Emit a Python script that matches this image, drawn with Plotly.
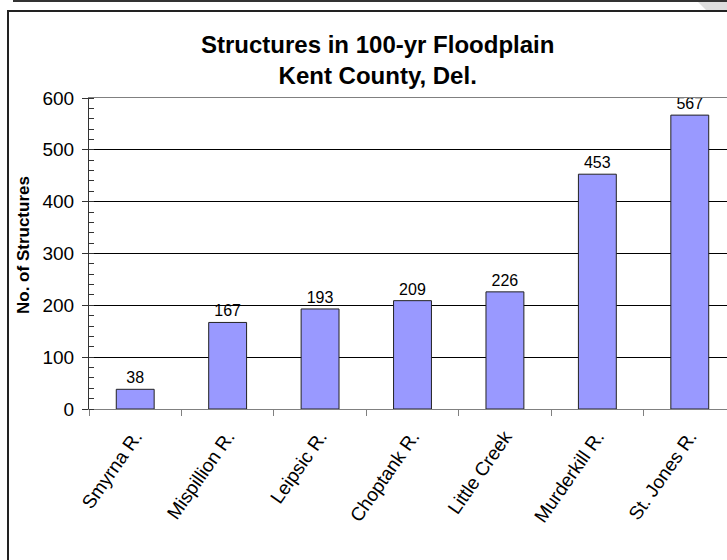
import plotly.graph_objects as go

# Floodplain structure counts by watershed
watersheds = ["Smyrna R.", "Mispillion R.", "Leipsic R.", "Choptank R.",
              "Little Creek", "Murderkill R.", "St. Jones R."]
structures = [38, 167, 193, 209, 226, 453, 567]
y_ticks = [0, 100, 200, 300, 400, 500, 600]

FONT = "Liberation Sans, Arial, sans-serif"

W, H = 727, 560
L, R, T, B = 89, 0, 98, 151
pw, ph = W - L - R, H - T - B


def px_x(x):
    return (x - L) / pw


def px_y(y):
    return (H - B - y) / ph


fig = go.Figure()
fig.add_trace(go.Bar(
    x=watersheds,
    y=structures,
    width=0.41,
    marker=dict(color="#9999FF", line=dict(color="#222222", width=1)),
    text=[str(v) for v in structures],
    textposition="outside",
    textfont=dict(family=FONT, size=16, color="#000000"),
    cliponaxis=False,
    constraintext="none",
))

fig.update_layout(
    width=W, height=H,
    margin=dict(l=L, r=R, t=T, b=B, pad=0),
    paper_bgcolor="#ffffff",
    plot_bgcolor="#ffffff",
    showlegend=False,
    font=dict(family=FONT, color="#000000"),
    bargap=0.59,
)

fig.update_xaxes(
    type="category",
    range=[-0.5, -0.5 + 7 * pw / 647],
    tickson="boundaries",
    ticks="outside", ticklen=6, tickcolor="#808080", tickwidth=1,
    showline=True, linecolor="#808080", linewidth=1, mirror=True,
    showgrid=False,
    tickangle=-55,
    ticklabelstandoff=8,
    tickfont=dict(family=FONT, size=19, color="#000000"),
)

fig.update_yaxes(
    range=[0, 600],
    tickvals=y_ticks,
    ticks="outside", ticklen=6, tickcolor="#333333", tickwidth=1,
    showline=True, linecolor="#333333", linewidth=1,
    showgrid=True, gridcolor="#000000", gridwidth=1,
    zeroline=False,
    ticklabelstandoff=4,
    tickfont=dict(family=FONT, size=19, color="#000000"),
    minor=dict(dtick=20, ticks="inside", ticklen=5, tickcolor="#333333",
               showgrid=False),
)

# chart title
fig.add_annotation(
    text="<b>Structures in 100-yr Floodplain<br>Kent County, Del.</b>",
    x=px_x(377), y=px_y(60), xref="paper", yref="paper",
    xanchor="center", yanchor="middle", showarrow=False,
    font=dict(family=FONT, size=24, color="#000000"),
)

# vertical axis title
fig.add_annotation(
    text="<b>No. of Structures</b>",
    textangle=-90,
    x=px_x(23), y=px_y(245), xref="paper", yref="paper",
    xanchor="center", yanchor="middle", showarrow=False,
    font=dict(family=FONT, size=17, color="#000000"),
)

# chart frame
fig.add_shape(type="rect", xref="paper", yref="paper",
              x0=px_x(8), x1=px_x(760), y0=px_y(600), y1=px_y(11),
              line=dict(color="#222222", width=2), fillcolor="rgba(0,0,0,0)",
              layer="below")
# strip at the very top
fig.add_shape(type="path", xref="paper", yref="paper",
              path=(f"M {px_x(698)} {px_y(2)} L {px_x(727)} {px_y(2)} "
                    f"L {px_x(727)} {px_y(10)} L {px_x(706)} {px_y(10)} Z"),
              line=dict(width=0), fillcolor="#dddddd", layer="below")
fig.add_shape(type="line", xref="paper", yref="paper",
              x0=px_x(13), x1=px_x(740), y0=px_y(1), y1=px_y(1),
              line=dict(color="#333333", width=2))

fig.write_html("out.html")
